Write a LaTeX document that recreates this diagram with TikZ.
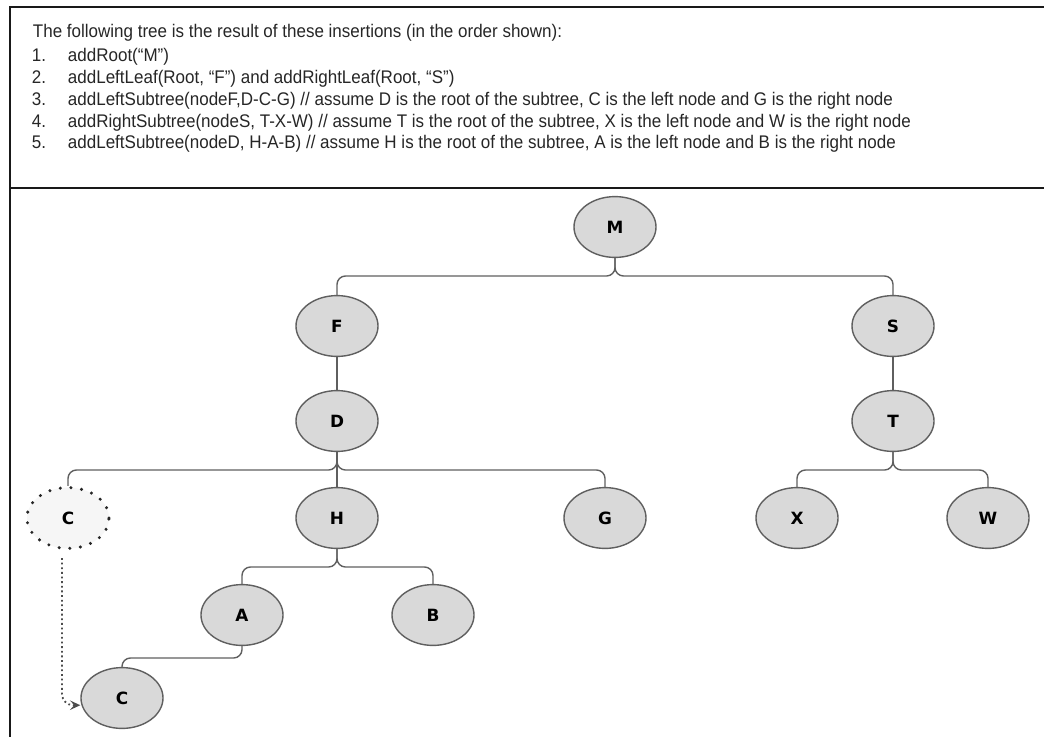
\documentclass[tikz,border=0pt]{standalone}
\usepackage{fontspec}
\usetikzlibrary{shapes.geometric, arrows.meta}
\setmainfont[FakeStretch=0.93]{Liberation Sans}
\newfontfamily\labelfont{DejaVu Sans}
\definecolor{nodegray}{RGB}{217,217,217}
\definecolor{rimgray}{RGB}{95,95,95}
\definecolor{ghostgray}{RGB}{246,246,246}
\tikzset{
  every node/.style={font=\fontsize{13}{15}\selectfont, text=black!85},
  treenode/.style={ellipse, draw=rimgray, line width=1pt, fill=nodegray,
    minimum width=2.05cm, minimum height=1.52cm, inner sep=0pt,
    font=\labelfont\bfseries\fontsize{12}{14}\selectfont, text=black},
  ghostnode/.style={treenode, draw=black!85, fill=ghostgray, line width=2.4pt,
    dash pattern=on 0pt off 7.6pt, line cap=round},
  edge/.style={draw=rimgray, line width=1pt, rounded corners=6pt},
  moveline/.style={draw=black!70, line width=1.3pt, dotted, rounded corners=8pt,
    -{Stealth[length=2.6mm, width=2.4mm, inset=1.1mm]}},
  frameline/.style={line width=1.6pt, black!90},
}

\begin{document}
\begin{tikzpicture}[x=0.025cm, y=-0.025cm]
    \useasboundingbox (0,0) rectangle (1044,737);
    % frame
    \draw[frameline] (1044,7) -- (10,7) -- (10,737);
    \draw[frameline] (10,188) -- (1044,188);
    % header text
    \node[anchor=base west] (intro) at (28,37.5) {The following tree is the result of these insertions (in the order shown):};
    \node[anchor=base west] (n1) at (27,61.5) {1.};
    \node[anchor=base west] (t1) at (63,61.5) {addRoot(“M”)};
    \node[anchor=base west] (n2) at (27,83.5) {2.};
    \node[anchor=base west] (t2) at (63,83.5) {addLeftLeaf(Root, “F”) and addRightLeaf(Root, “S”)};
    \node[anchor=base west] (n3) at (27,105.5) {3.};
    \node[anchor=base west] (t3) at (63,105.5) {addLeftSubtree(nodeF,D-C-G) // assume D is the root of the subtree, C is the left node and G is the right node};
    \node[anchor=base west] (n4) at (27,127.5) {4.};
    \node[anchor=base west] (t4) at (63,127.5) {addRightSubtree(nodeS, T-X-W) // assume T is the root of the subtree, X is the left node and W is the right node};
    \node[anchor=base west] (n5) at (27,148.5) {5.};
    \node[anchor=base west] (t5) at (63,148.5) {addLeftSubtree(nodeD, H-A-B) // assume H is the root of the subtree, A is the left node and B is the right node};
    % tree nodes
    \node[treenode] (M) at (615,227) {M};
    \node[treenode] (F) at (337,326) {F};
    \node[treenode] (S) at (893,326) {S};
    \node[treenode] (D) at (337,421) {D};
    \node[treenode] (T) at (893,421) {T};
    \node[ghostnode] (Cold) at (68,518) {C};
    \node[treenode] (H) at (337,518) {H};
    \node[treenode] (G) at (605,518) {G};
    \node[treenode] (X) at (797,518) {X};
    \node[treenode] (W) at (988,518) {W};
    \node[treenode] (A) at (242,615) {A};
    \node[treenode] (B) at (433,615) {B};
    \node[treenode] (C) at (122,698) {C};
    % bus points
    \coordinate (busM) at (615,276);
    \coordinate (busD) at (337,470);
    \coordinate (busT) at (893,470);
    \coordinate (busH) at (337,567);
    \coordinate (busA) at (242,658);
    % connectors
    \draw[edge] (M.south) -- (busM) -| (F.north);
    \draw[edge] (M.south) -- (busM) -| (S.north);
    \draw[edge] (F) -- (D);
    \draw[edge] (S) -- (T);
    \draw[edge] (D.south) -- (busD) -| (Cold.north);
    \draw[edge] (D) -- (H);
    \draw[edge] (D.south) -- (busD) -| (G.north);
    \draw[edge] (T.south) -- (busT) -| (X.north);
    \draw[edge] (T.south) -- (busT) -| (W.north);
    \draw[edge] (H.south) -- (busH) -| (A.north);
    \draw[edge] (H.south) -- (busH) -| (B.north);
    \draw[edge] (A.south) -- (busA) -| (C.north);
    % moved node
    \coordinate (moveStart) at (62,558);
    \draw[moveline] (moveStart) |- ([yshift=-0.18cm]C.west);
\end{tikzpicture}
\end{document}
